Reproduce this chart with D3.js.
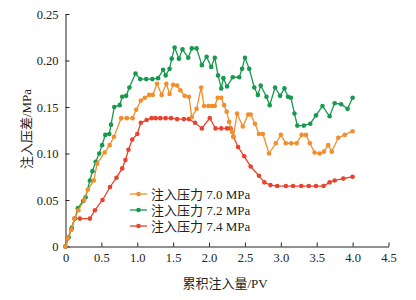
<!DOCTYPE html>
<html><head><meta charset="utf-8">
<script src="https://cdn.jsdelivr.net/npm/d3@7"></script>
<style>
html,body{margin:0;padding:0;background:#fff;}
svg text{font-family:"Liberation Serif","Times New Roman","Noto Sans CJK SC",serif;fill:#222;}
</style></head>
<body><svg id="c" width="416" height="300"></svg>
<script>
const xTicks = [0,0.5,1.0,1.5,2.0,2.5,3.0,3.5,4.0,4.5];
const xTickLabels = ["0","0.5","1.0","1.5","2.0","2.5","3.0","3.5","4.0","4.5"];
const yTicks = [0,0.05,0.10,0.15,0.20,0.25];
const yTickLabels = ["0","0.05","0.10","0.15","0.20","0.25"];
const seriesNames = ["注入压力 7.0 MPa","注入压力 7.2 MPa","注入压力 7.4 MPa"];

const x70 = [0,0.035,0.08,0.125,0.18,0.26,0.31,0.395,0.44,0.545,0.615,0.675,0.775,0.855,0.935,0.985,1.05,1.105,1.165,1.215,1.275,1.34,1.405,1.45,1.50,1.555,1.60,1.66,1.72,1.76,1.826,1.89,1.93,1.99,2.04,2.08,2.12,2.17,2.21,2.245,2.28,2.32,2.34,2.39,2.47,2.545,2.58,2.64,2.695,2.75,2.835,2.93,3.0,3.07,3.145,3.22,3.29,3.35,3.405,3.47,3.54,3.60,3.66,3.71,3.80,3.89,4.0];
const y70 = [0,0.009,0.018,0.03,0.039,0.05,0.061,0.071,0.089,0.101,0.109,0.118,0.138,0.138,0.138,0.147,0.157,0.16,0.163,0.163,0.175,0.163,0.175,0.164,0.174,0.173,0.168,0.162,0.161,0.139,0.148,0.171,0.151,0.151,0.151,0.151,0.16,0.16,0.152,0.145,0.134,0.123,0.118,0.143,0.129,0.142,0.142,0.132,0.121,0.121,0.10,0.111,0.12,0.111,0.111,0.111,0.12,0.12,0.111,0.101,0.10,0.102,0.109,0.102,0.117,0.12,0.124];

const x72 = [0,0.045,0.087,0.133,0.171,0.245,0.28,0.34,0.376,0.42,0.47,0.51,0.554,0.61,0.634,0.68,0.755,0.79,0.845,0.89,0.975,1.04,1.125,1.21,1.29,1.36,1.395,1.45,1.48,1.52,1.58,1.63,1.71,1.76,1.826,1.90,1.966,2.03,2.08,2.125,2.17,2.2,2.25,2.33,2.42,2.46,2.50,2.56,2.63,2.68,2.72,2.80,2.845,2.92,2.99,3.05,3.10,3.14,3.19,3.23,3.32,3.41,3.49,3.58,3.68,3.75,3.84,3.93,4.0];
const y72 = [0,0.01,0.02,0.03,0.041,0.049,0.053,0.071,0.081,0.091,0.10,0.109,0.12,0.121,0.131,0.15,0.152,0.161,0.162,0.171,0.186,0.18,0.18,0.18,0.181,0.19,0.184,0.191,0.202,0.214,0.202,0.212,0.203,0.213,0.213,0.195,0.204,0.193,0.203,0.184,0.17,0.181,0.172,0.182,0.182,0.191,0.203,0.191,0.171,0.163,0.173,0.161,0.152,0.171,0.162,0.17,0.161,0.16,0.143,0.13,0.13,0.132,0.141,0.151,0.14,0.154,0.153,0.148,0.16];

const x74 = [0,0.035,0.08,0.125,0.2,0.34,0.41,0.516,0.62,0.71,0.79,0.835,0.877,0.93,1.0,1.05,1.13,1.20,1.255,1.32,1.395,1.47,1.555,1.65,1.72,1.805,1.90,2.01,2.09,2.17,2.25,2.30,2.34,2.405,2.49,2.58,2.695,2.77,2.855,2.95,3.07,3.17,3.285,3.39,3.49,3.595,3.68,3.75,3.87,4.0];
const y74 = [0,0.009,0.018,0.03,0.03,0.03,0.039,0.05,0.064,0.074,0.084,0.093,0.104,0.115,0.121,0.133,0.136,0.138,0.138,0.138,0.138,0.138,0.137,0.137,0.137,0.133,0.127,0.138,0.127,0.127,0.127,0.127,0.118,0.107,0.097,0.086,0.076,0.069,0.066,0.065,0.065,0.065,0.065,0.065,0.065,0.065,0.069,0.071,0.073,0.075];

const colors = ["#f28e2b","#17994e","#e8432e"];
const series = [
  {name:seriesNames[0], xs:x70, ys:y70, color:colors[0]},
  {name:seriesNames[1], xs:x72, ys:y72, color:colors[1]},
  {name:seriesNames[2], xs:x74, ys:y74, color:colors[2]}
];

const svg = d3.select("#c");
const x = d3.scaleLinear().domain([0,4.5]).range([65.5,388.5]);
const y = d3.scaleLinear().domain([0,0.25]).range([246.5,14]);

const xa = svg.append("g").attr("transform","translate(0,246.5)")
  .call(d3.axisBottom(x).tickValues(xTicks).tickFormat((d,i)=>xTickLabels[i]).tickSizeInner(-4).tickSizeOuter(0).tickPadding(7));
const ya = svg.append("g").attr("transform","translate(65.5,0)")
  .call(d3.axisLeft(y).tickValues(yTicks).tickFormat((d,i)=>yTickLabels[i]).tickSizeInner(-4).tickSizeOuter(0).tickPadding(6));
[xa,ya].forEach(a=>{
  a.selectAll("text").style("font-size","12.5px").attr("fill","#222");
  a.selectAll("line,path").attr("stroke","#222");
});
ya.selectAll("text").attr("dx","-1");

svg.append("text").attr("x",225).attr("y",288).attr("text-anchor","middle")
  .style("font-size","13px").text("累积注入量/PV");
svg.append("text").attr("transform","translate(31,129) rotate(-90)").attr("text-anchor","middle")
  .style("font-size","13px").text("注入压差/MPa");

const line = d3.line().x(d=>x(d[0])).y(d=>y(d[1]));
const drawOrder = [2,1,0];
drawOrder.forEach(i=>{
  const s = series[i];
  const pts = s.xs.map((v,j)=>[v,s.ys[j]]);
  const g = svg.append("g");
  g.append("path").datum(pts).attr("d",line).attr("fill","none")
    .attr("stroke",s.color).attr("stroke-width",1.3);
  g.selectAll("circle").data(pts).join("circle")
    .attr("cx",d=>x(d[0])).attr("cy",d=>y(d[1])).attr("r",2.3).attr("fill",s.color);
});

const lg = svg.append("g");
series.forEach((s,i)=>{
  const yy = 194 + i*16;
  lg.append("line").attr("x1",130).attr("x2",147).attr("y1",yy).attr("y2",yy)
    .attr("stroke",s.color).attr("stroke-width",1.3);
  lg.append("circle").attr("cx",138.5).attr("cy",yy).attr("r",2.3).attr("fill",s.color);
  lg.append("text").attr("x",151).attr("y",yy).attr("dy","0.35em")
    .style("font-size","13px").text(s.name);
});
</script></body></html>
